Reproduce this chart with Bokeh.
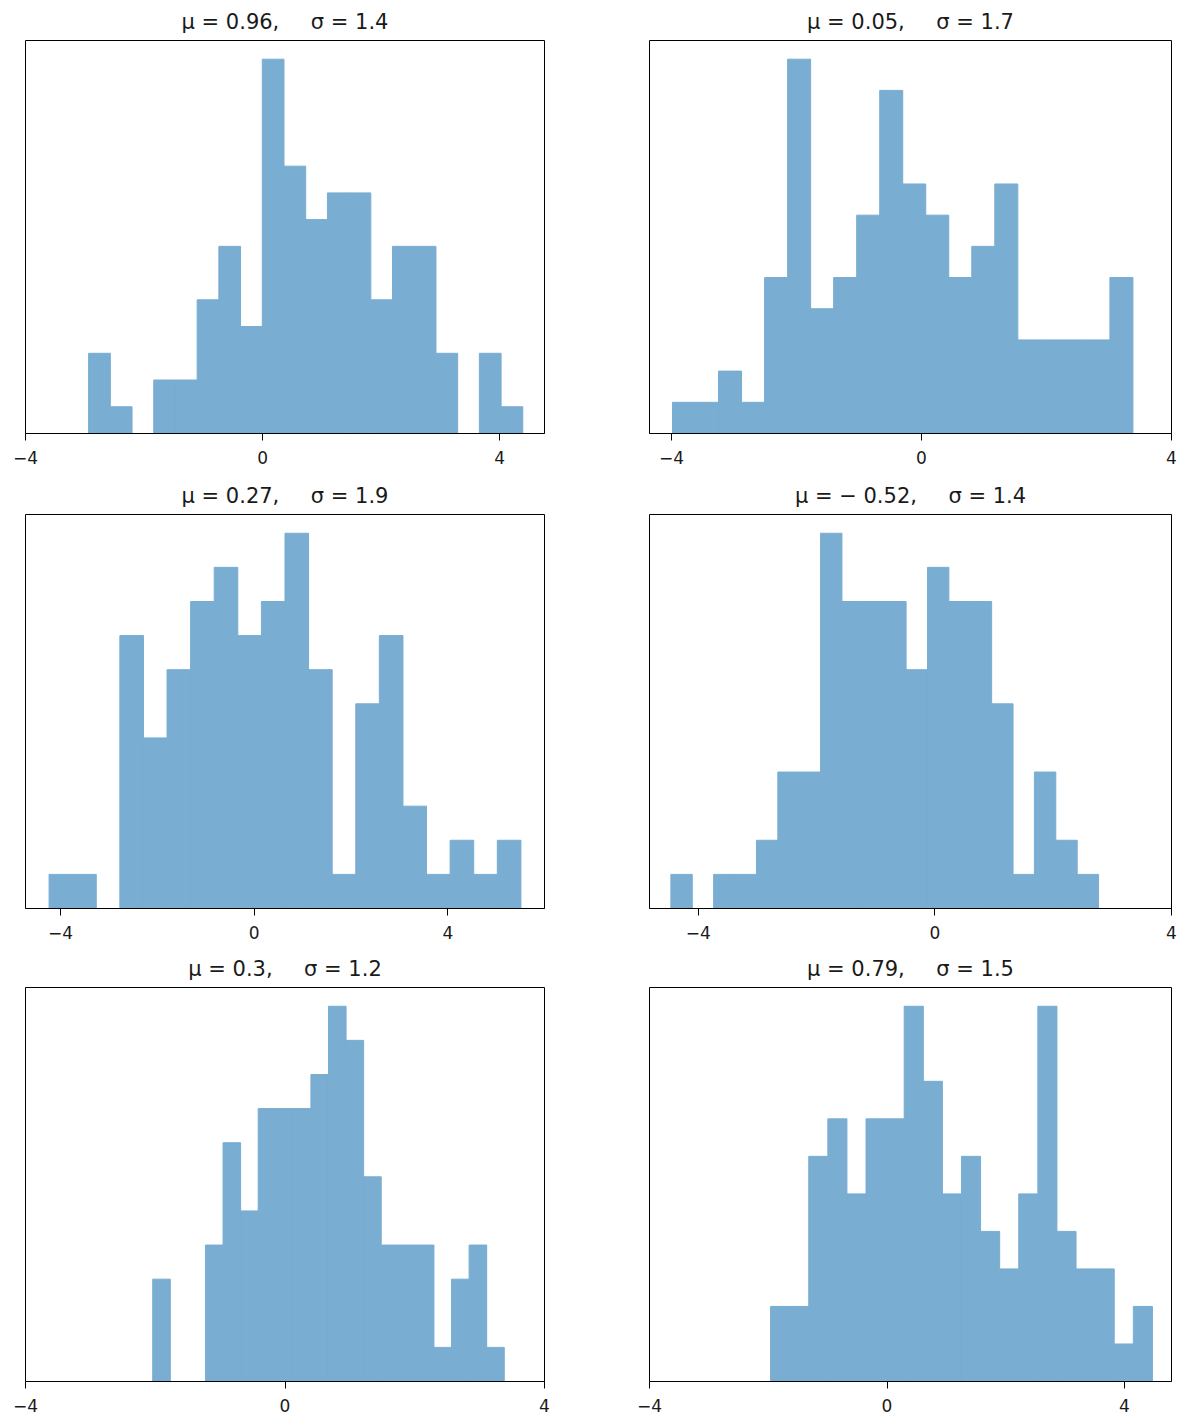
import numpy as np
from bokeh.plotting import figure
from bokeh.layouts import column, row
from bokeh.models import Range1d, FixedTicker
from bokeh.embed import file_html
from bokeh.resources import INLINE

# ---- data: 20 equal bins between sample min and max ----
titles = [
    "μ = 0.96,\u2003\u2002σ = 1.4",
    "μ = 0.05,\u2003\u2002σ = 1.7",
    "μ = 0.27,\u2003\u2002σ = 1.9",
    "μ = − 0.52,\u2003\u2002σ = 1.4",
    "μ = 0.3,\u2003\u2002σ = 1.2",
    "μ = 0.79,\u2003\u2002σ = 1.5",
]
data_min = [-2.935, -3.983, -4.234, -4.463, -2.039, -1.961]
data_max = [4.391, 3.383, 5.509, 2.767, 3.380, 4.470]
counts_1 = [3, 1, 0, 2, 2, 5, 7, 4, 14, 10, 8, 9, 9, 5, 7, 7, 3, 0, 3, 1]
counts_2 = [1, 1, 2, 1, 5, 12, 4, 5, 7, 11, 8, 7, 5, 6, 8, 3, 3, 3, 3, 5]
counts_3 = [1, 1, 0, 8, 5, 7, 9, 10, 8, 9, 11, 7, 1, 6, 8, 3, 1, 2, 1, 2]
counts_4 = [1, 0, 1, 1, 2, 4, 4, 11, 9, 9, 9, 7, 10, 9, 9, 6, 1, 4, 2, 1]
counts_5 = [3, 0, 0, 4, 7, 5, 8, 8, 8, 9, 11, 10, 6, 4, 4, 4, 1, 3, 4, 1]
counts_6 = [2, 2, 6, 7, 5, 7, 7, 10, 8, 5, 6, 4, 3, 5, 10, 4, 3, 3, 1, 2]
all_counts = [counts_1, counts_2, counts_3, counts_4, counts_5, counts_6]
n_bins = 20
tick_values = [-4, 0, 4]
tick_labels = {-4: "\u22124", 0: "0", 4: "4"}

BAR = "#79add2"
FONT = "DejaVu Sans"

# layout (px)
col_borders = [(25, 50), (55, 14)]        # (left, right)
col_frame_w = [519, 522]
row_borders = [(40, 42), (39, 40), (39, 39)]  # (top, bottom)
row_frame_h = [393, 394, 394]


def make_panel(i):
    r, c = divmod(i, 2)
    counts = np.array(all_counts[i], dtype=float)
    edges = np.linspace(data_min[i], data_max[i], n_bins + 1)
    span = data_max[i] - data_min[i]
    x0 = min(tick_values[0], data_min[i] - 0.05 * span)
    x1 = max(tick_values[-1], data_max[i] + 0.05 * span)
    bl, br = col_borders[c]
    bt, bb = row_borders[r]
    p = figure(
        width=bl + col_frame_w[c] + br,
        height=bt + row_frame_h[r] + bb,
        min_border_left=bl, min_border_right=br,
        min_border_top=bt, min_border_bottom=bb,
        x_range=Range1d(x0, x1),
        y_range=Range1d(0, counts.max() * 1.05),
        y_axis_location=None,
        toolbar_location=None,
        output_backend="svg",
        title=titles[i],
    )
    nz = counts > 0
    p.quad(left=edges[:-1][nz], right=edges[1:][nz], bottom=0, top=counts[nz],
           fill_color=BAR, line_color=BAR, line_width=1)
    p.grid.visible = False
    p.outline_line_color = "black"
    p.outline_line_width = 1
    p.outline_line_alpha = 1
    p.background_fill_color = "white"
    p.border_fill_color = "white"

    p.title.align = "center"
    p.title.text_font = FONT
    p.title.text_font_size = "21px"
    p.title.text_font_style = "normal"
    p.title.text_color = "#1a1a1a"
    p.title.standoff = 13

    ax = p.xaxis[0]
    ax.ticker = FixedTicker(ticks=tick_values)
    ax.major_label_overrides = tick_labels
    ax.minor_tick_line_color = None
    ax.major_tick_out = 7
    ax.major_tick_in = 0
    ax.major_tick_line_color = "black"
    ax.axis_line_color = "black"
    ax.major_label_text_font = FONT
    ax.major_label_text_font_size = "17px"
    ax.major_label_text_color = "#1a1a1a"
    ax.major_label_standoff = 10
    return p


panels = [make_panel(i) for i in range(6)]
layout = column(
    row(panels[0], panels[1]),
    row(panels[2], panels[3]),
    row(panels[4], panels[5]),
)

open("out.html", "w").write(file_html(layout, INLINE))
